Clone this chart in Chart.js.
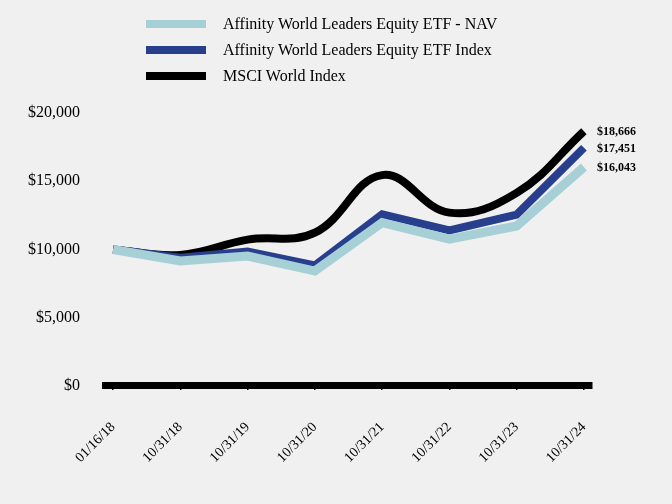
<!DOCTYPE html>
<html>
<head>
<meta charset="utf-8">
<script src="https://cdn.jsdelivr.net/npm/chart.js@4"></script>
<style>
  html, body { margin: 0; padding: 0; background: #f0f0f0; }
  #wrap { position: relative; width: 672px; height: 504px; }
  #legend { position: absolute; left: 146px; top: 11px; font-family: "Liberation Serif", "Times New Roman", serif; font-size: 16px; color: #000; }
  #legend .row { display: flex; align-items: center; height: 26px; }
  #legend .swatch { width: 60px; height: 8px; margin-right: 17px; }
</style>
</head>
<body>
<div id="wrap">
  <canvas id="chart" width="672" height="504"></canvas>
  <div id="legend"></div>
</div>
<script>
// tick labels along the bottom
const dates = ["01/16/18", "10/31/18", "10/31/19", "10/31/20", "10/31/21", "10/31/22", "10/31/23", "10/31/24"];

// growth of $10,000
const navValues   = [10000, 9160, 9520, 8420, 11960, 10750, 11720, 16043];
const indexValues = [10000, 9400, 9850, 8830, 12580, 11400, 12550, 17451];
const msciValues  = [10000, 9600, 10720, 11230, 15450, 12700, 14150, 18666];

const seriesNames = [
  "Affinity World Leaders Equity ETF - NAV",
  "Affinity World Leaders Equity ETF Index",
  "MSCI World Index"
];
const seriesColors = ["#a6d0d6", "#273f8d", "#000000"];

const serif = "'Liberation Serif', 'Times New Roman', serif";

function toPoints(arr) {
  return arr.map((v, i) => ({ x: i, y: v }));
}

function money(v) {
  return "$" + Number(v).toLocaleString("en-US");
}

// html legend, one item per row
const legendDiv = document.getElementById("legend");
seriesNames.forEach((name, i) => {
  const row = document.createElement("div");
  row.className = "row";
  const sw = document.createElement("span");
  sw.className = "swatch";
  sw.style.background = seriesColors[i];
  const txt = document.createElement("span");
  txt.textContent = name;
  row.appendChild(sw);
  row.appendChild(txt);
  legendDiv.appendChild(row);
});

// writes the last value next to each line end
const endLabels = {
  id: "endLabels",
  afterDatasetsDraw(chart) {
    const ctx = chart.ctx;
    ctx.save();
    ctx.font = "bold 12px " + serif;
    ctx.fillStyle = "#000";
    ctx.textBaseline = "middle";
    ctx.textAlign = "left";
    chart.data.datasets.forEach((ds, i) => {
      const pts = chart.getDatasetMeta(i).data;
      const last = pts[pts.length - 1];
      ctx.fillText(money(ds.data[ds.data.length - 1].y), last.x + 13, last.y + 1);
    });
    ctx.restore();
  }
};

new Chart(document.getElementById("chart"), {
  type: "line",
  data: {
    datasets: [
      { label: seriesNames[2], data: toPoints(msciValues), borderColor: seriesColors[2], borderWidth: 8, tension: 0.4, pointRadius: 0, order: 3 },
      { label: seriesNames[1], data: toPoints(indexValues), borderColor: seriesColors[1], borderWidth: 8, tension: 0, pointRadius: 0, order: 2 },
      { label: seriesNames[0], data: toPoints(navValues), borderColor: seriesColors[0], borderWidth: 9, tension: 0, pointRadius: 0, order: 1 }
    ]
  },
  options: {
    responsive: false,
    animation: false,
    layout: { padding: { top: 113, right: 80, left: 3, bottom: 9 } },
    plugins: { legend: { display: false }, tooltip: { enabled: false } },
    scales: {
      x: {
        type: "linear",
        min: -0.12,
        max: 7.12,
        afterBuildTicks: axis => { axis.ticks = dates.map((_, i) => ({ value: i })); },
        afterFit: axis => { axis.paddingLeft = 0; axis.paddingRight = 0; },
        grid: { drawOnChartArea: false, drawTicks: true, tickLength: 4, color: "#000", lineWidth: 1.5 },
        border: { display: true, color: "#000", width: 7 },
        ticks: {
          font: { family: serif, size: 14 },
          color: "#000",
          minRotation: 45,
          maxRotation: 45,
          padding: 29,
          callback: v => dates[v]
        }
      },
      y: {
        min: 0,
        max: 20000,
        grid: { display: false, drawTicks: false },
        border: { display: false },
        ticks: {
          stepSize: 5000,
          font: { family: serif, size: 16 },
          color: "#000",
          padding: 25,
          callback: v => money(v)
        }
      }
    }
  },
  plugins: [endLabels]
});
</script>
</body>
</html>
